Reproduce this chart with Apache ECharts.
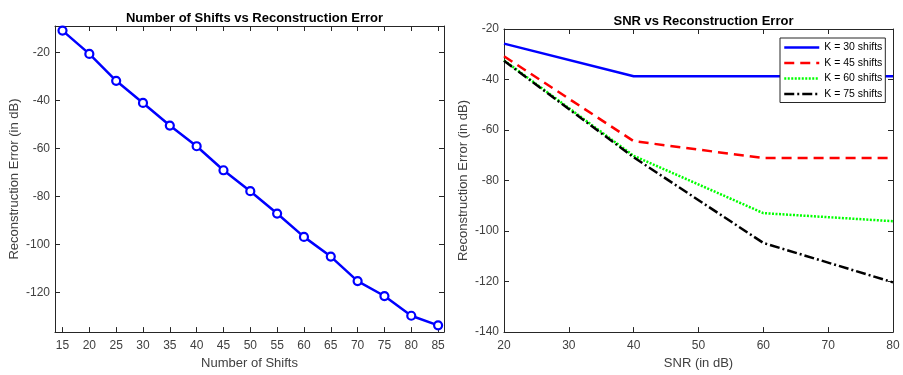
<!DOCTYPE html>
<html><head><meta charset="utf-8">
<script src="https://cdn.jsdelivr.net/npm/echarts@6/dist/echarts.min.js"></script>
<style>html,body{margin:0;padding:0;background:#fff}#c{width:903px;height:375px}</style>
</head><body><div id="c"></div>
<script>
// ---- data ----
const shifts = [15,20,25,30,35,40,45,50,55,60,65,70,75,80,85];
const shiftError = [-11,-20.7,-31.9,-41.1,-50.5,-59.1,-69.1,-77.8,-87.1,-96.8,-105,-115.2,-121.4,-129.6,-133.6];
const leftXTicks = [15,20,25,30,35,40,45,50,55,60,65,70,75,80,85];
const leftYTicks = [-120,-100,-80,-60,-40,-20];

const snr = [20,40,60,80];
const k30 = [-25.8,-38.7,-38.7,-38.7];
const k45 = [-30.8,-64.4,-71.1,-71.1];
const k60 = [-32.4,-70.2,-92.9,-96.1];
const k75 = [-32.6,-70.8,-104.7,-120.3];
const seriesNames = ['K = 30 shifts','K = 45 shifts','K = 60 shifts','K = 75 shifts'];
const rightXTicks = [20,30,40,50,60,70,80];
const rightYTicks = [-140,-120,-100,-80,-60,-40,-20];

const AX = '#262626';
const TXT = '#404040';
const FONT = 'Liberation Sans, Arial, Helvetica, sans-serif';

function mainX(gi, min, max, ticks, name, gap){
  return {type:'value', gridIndex:gi, position:'bottom', min:min, max:max,
    name:name, nameLocation:'middle', nameGap:gap,
    nameTextStyle:{color:TXT, fontSize:13, fontFamily:FONT},
    axisLine:{show:true, onZero:false, lineStyle:{color:AX, width:1}},
    axisTick:{show:true, inside:true, length:5, customValues:ticks, lineStyle:{color:AX}},
    axisLabel:{show:true, customValues:ticks, color:TXT, fontSize:12, fontFamily:FONT, margin:8, showMinLabel:true, showMaxLabel:true},
    splitLine:{show:false}};
}
function secX(gi, min, max, ticks){
  return {type:'value', gridIndex:gi, position:'top', min:min, max:max,
    axisLine:{show:true, onZero:false, lineStyle:{color:AX, width:1}},
    axisTick:{show:true, inside:true, length:5, customValues:ticks, lineStyle:{color:AX}},
    axisLabel:{show:false}, splitLine:{show:false}};
}
function mainY(gi, min, max, ticks, name, gap){
  return {type:'value', gridIndex:gi, position:'left', min:min, max:max,
    name:name, nameLocation:'middle', nameGap:gap,
    nameTextStyle:{color:TXT, fontSize:13, fontFamily:FONT},
    axisLine:{show:true, onZero:false, lineStyle:{color:AX, width:1}},
    axisTick:{show:true, inside:true, length:5, customValues:ticks, lineStyle:{color:AX}},
    axisLabel:{show:true, customValues:ticks, color:TXT, fontSize:12, fontFamily:FONT, margin:5, showMinLabel:true, showMaxLabel:true},
    splitLine:{show:false}};
}
function secY(gi, min, max, ticks){
  return {type:'value', gridIndex:gi, position:'right', min:min, max:max,
    axisLine:{show:true, onZero:false, lineStyle:{color:AX, width:1}},
    axisTick:{show:true, inside:true, length:5, customValues:ticks, lineStyle:{color:AX}},
    axisLabel:{show:false}, splitLine:{show:false}};
}

const pair = (xs, ys) => xs.map((x,i)=>[x, ys[i]]);

const chart = echarts.init(document.getElementById('c'), null, {renderer:'canvas'});
chart.setOption({
  animation:false,
  backgroundColor:'#fff',
  title:[
    {text:'Number of Shifts vs Reconstruction Error', left:249.5, textAlign:'center', top:7,
     textStyle:{fontSize:13, fontWeight:'bold', color:'#000', fontFamily:FONT}},
    {text:'SNR vs Reconstruction Error', left:698.5, textAlign:'center', top:10,
     textStyle:{fontSize:13, fontWeight:'bold', color:'#000', fontFamily:FONT}}
  ],
  grid:[
    {left:55, right:459, top:26, bottom:41, containLabel:false},
    {left:504, right:10, top:29, bottom:38, containLabel:false}
  ],
  xAxis:[
    mainX(0, 13.6, 86.1, leftXTicks, 'Number of Shifts', 23),
    secX(0, 13.6, 86.1, leftXTicks),
    mainX(1, 20, 80, rightXTicks, 'SNR (in dB)', 24),
    secX(1, 20, 80, rightXTicks)
  ],
  yAxis:[
    mainY(0, -136.4, -9.1, leftYTicks, 'Reconstruction Error (in dB)', 34),
    secY(0, -136.4, -9.1, leftYTicks),
    mainY(1, -140, -20, rightYTicks, 'Reconstruction Error (in dB)', 34),
    secY(1, -140, -20, rightYTicks)
  ],
  legend:{
    data:seriesNames, orient:'vertical', left:780, top:38,
    itemWidth:35, itemHeight:10, itemGap:4.5,
    padding:[4,3,3,3],
    backgroundColor:'#fff', borderColor:'#262626', borderWidth:1, borderRadius:0,
    textStyle:{fontSize:10.5, color:'#000', fontFamily:FONT, padding:[0,0,0,0]},
    itemStyle:{opacity:0},
    lineStyle:{width:2.5},
    selectedMode:false
  },
  series:[
    {type:'line', xAxisIndex:0, yAxisIndex:0, data:pair(shifts, shiftError),
     symbol:'circle', symbolSize:8, showSymbol:true,
     lineStyle:{color:'#0000ff', width:2.5},
     itemStyle:{color:'#fff', borderColor:'#0000ff', borderWidth:2.2}, z:3},
    {name:seriesNames[0], type:'line', xAxisIndex:2, yAxisIndex:2, data:pair(snr,k30), showSymbol:false, symbol:'none',
     lineStyle:{color:'#0000ff', width:2.5, type:'solid'}, itemStyle:{color:'#0000ff'}},
    {name:seriesNames[1], type:'line', xAxisIndex:2, yAxisIndex:2, data:pair(snr,k45), showSymbol:false, symbol:'none',
     lineStyle:{color:'#ff0000', width:2.5, type:[10,6]}, itemStyle:{color:'#ff0000'}},
    {name:seriesNames[2], type:'line', xAxisIndex:2, yAxisIndex:2, data:pair(snr,k60), showSymbol:false, symbol:'none',
     lineStyle:{color:'#00ff00', width:2.5, type:[2,1.5]}, itemStyle:{color:'#00ff00'}},
    {name:seriesNames[3], type:'line', xAxisIndex:2, yAxisIndex:2, data:pair(snr,k75), showSymbol:false, symbol:'none',
     lineStyle:{color:'#000000', width:2.5, type:[10,3,2,3]}, itemStyle:{color:'#000000'}}
  ]
});
</script></body></html>
